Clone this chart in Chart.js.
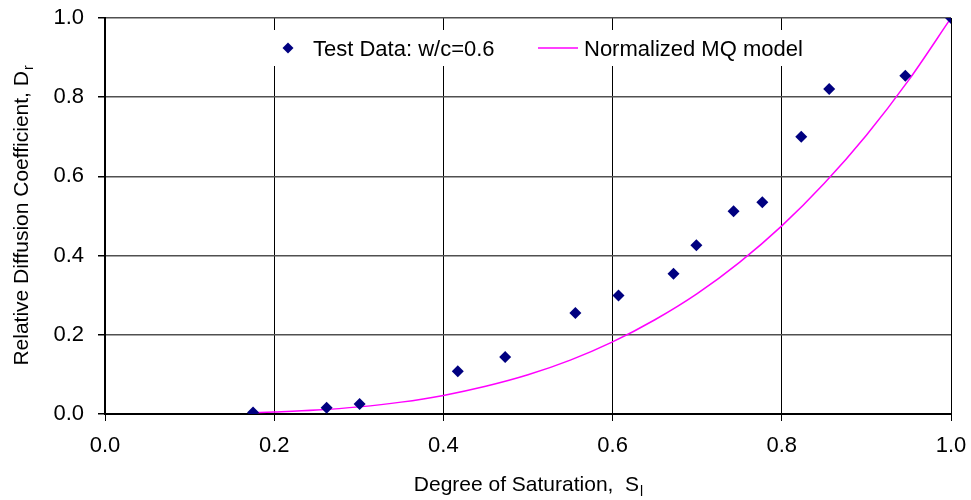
<!DOCTYPE html>
<html>
<head>
<meta charset="utf-8">
<script src="https://cdn.jsdelivr.net/npm/chart.js@4.4.1/dist/chart.umd.min.js"></script>
<style>
html,body{margin:0;padding:0;background:#fff;}
#wrap{width:971px;height:500px;position:relative;}
</style>
</head>
<body>
<div id="wrap"><canvas id="c"></canvas></div>
<script>
// ---- data ----
const testSaturation = [0.175, 0.262, 0.301, 0.417, 0.473, 0.556, 0.607, 0.672, 0.699, 0.743, 0.777, 0.823, 0.856, 0.946, 1.000];
const testDiffusion  = [0.004, 0.016, 0.025, 0.108, 0.144, 0.255, 0.299, 0.354, 0.426, 0.512, 0.535, 0.700, 0.821, 0.854, 1.000];
const modelSaturation = [0.175, 0.20, 0.25, 0.30, 0.35, 0.40, 0.45, 0.50, 0.55, 0.60, 0.65, 0.70, 0.75, 0.80, 0.85, 0.90, 0.95, 1.00];
const modelDiffusion  = [0.003, 0.005, 0.010, 0.018, 0.030, 0.047, 0.070, 0.099, 0.136, 0.182, 0.238, 0.304, 0.383, 0.475, 0.582, 0.704, 0.843, 1.000];
const xTickLabels = ['0.0', '0.2', '0.4', '0.6', '0.8', '1.0'];
const yTickLabels = ['0.0', '0.2', '0.4', '0.6', '0.8', '1.0'];
const seriesLabels = ['Test Data: w/c=0.6', 'Normalized MQ model'];
const xTitle = ['Degree of Saturation,  S', 'l'];
const yTitle = ['Relative Diffusion Coefficient, D', 'r'];

const FONT = "'Liberation Sans', Arial, Helvetica, sans-serif";

const boxLegend = {
  id: 'boxLegend',
  beforeDatasetsDraw(chart) {
    const ctx = chart.ctx, ca = chart.chartArea;
    const ds = chart.data.datasets;
    ctx.save();
    ctx.fillStyle = '#ffffff';
    ctx.fillRect(ca.left + 157, ca.top + 12, 560, 36);
    const cy = ca.top + 30;
    // diamond marker
    const mx = ca.left + 183, r = 5.5;
    ctx.beginPath();
    ctx.moveTo(mx - r, cy); ctx.lineTo(mx, cy - r); ctx.lineTo(mx + r, cy); ctx.lineTo(mx, cy + r);
    ctx.closePath();
    ctx.fillStyle = ds[0].backgroundColor; ctx.fill();
    ctx.font = '22px ' + FONT;
    ctx.fillStyle = '#000';
    ctx.textBaseline = 'alphabetic';
    ctx.fillText(ds[0].label, ca.left + 208, cy + 8);
    // line sample
    ctx.beginPath();
    ctx.moveTo(ca.left + 433, cy); ctx.lineTo(ca.left + 473, cy);
    ctx.strokeStyle = ds[1].borderColor; ctx.lineWidth = 1.5; ctx.stroke();
    ctx.fillText(ds[1].label, ca.left + 479, cy + 8);
    ctx.restore();
  }
};

const axisTitles = {
  id: 'axisTitles',
  afterDraw(chart) {
    const ctx = chart.ctx, ca = chart.chartArea;
    ctx.save();
    ctx.fillStyle = '#000';
    ctx.textBaseline = 'alphabetic';
    // x title
    ctx.font = '21px ' + FONT;
    const w1 = ctx.measureText(xTitle[0]).width;
    ctx.font = '14px ' + FONT;
    const w2 = ctx.measureText(xTitle[1]).width;
    let x0 = (ca.left + ca.right) / 2 - (w1 + w2) / 2;
    ctx.font = '21px ' + FONT;
    ctx.fillText(xTitle[0], x0, 491);
    ctx.font = '14px ' + FONT;
    ctx.fillText(xTitle[1], x0 + w1 + 1, 496);
    // y title
    ctx.translate(28, (ca.top + ca.bottom) / 2);
    ctx.rotate(-Math.PI / 2);
    ctx.font = '21px ' + FONT;
    const v1 = ctx.measureText(yTitle[0]).width;
    ctx.font = '14px ' + FONT;
    const v2 = ctx.measureText(yTitle[1]).width;
    x0 = -(v1 + v2) / 2;
    ctx.font = '21px ' + FONT;
    ctx.fillText(yTitle[0], x0, 0);
    ctx.font = '14px ' + FONT;
    ctx.fillText(yTitle[1], x0 + v1 + 1, 5);
    ctx.restore();
  }
};

function zeroPad(s) { s.paddingTop = 0; s.paddingBottom = 0; s.paddingLeft = 0; s.paddingRight = 0; }

new Chart(document.getElementById('c'), {
  type: 'scatter',
  data: {
    datasets: [
      {
        label: seriesLabels[0],
        data: testSaturation.map((s, i) => ({ x: s, y: testDiffusion[i] })),
        pointStyle: 'rectRot',
        pointRadius: 6,
        pointBorderWidth: 0,
        backgroundColor: '#000080',
        borderColor: '#000080',
        showLine: false
      },
      {
        label: seriesLabels[1],
        data: modelSaturation.map((s, i) => ({ x: s, y: modelDiffusion[i] })),
        showLine: true,
        borderColor: '#ff00ff',
        backgroundColor: '#ff00ff',
        borderWidth: 1.5,
        pointRadius: 0,
        tension: 0.4,
        cubicInterpolationMode: 'monotone'
      }
    ]
  },
  options: {
    responsive: true,
    maintainAspectRatio: false,
    animation: false,
    layout: { padding: { top: 18, right: 20, left: 0, bottom: 0 } },
    plugins: { legend: { display: false }, tooltip: { enabled: false } },
    scales: {
      x: {
        type: 'linear', min: 0, max: 1,
        afterFit: s => { s.height = 86; zeroPad(s); },
        ticks: {
          stepSize: 0.2, padding: 12, color: '#000',
          font: { family: FONT, size: 22 },
          callback: (v, i) => xTickLabels[i]
        },
        grid: { color: '#000', lineWidth: 1, tickLength: 7, tickColor: '#000' },
        border: { color: '#000', width: 2 }
      },
      y: {
        type: 'linear', min: 0, max: 1,
        afterFit: s => { s.width = 105; zeroPad(s); },
        ticks: {
          stepSize: 0.2, padding: 14, color: '#000',
          font: { family: FONT, size: 22 },
          callback: (v, i) => yTickLabels[i]
        },
        grid: { color: '#505050', lineWidth: 1.5, tickLength: 7, tickColor: '#000' },
        border: { color: '#000', width: 2 }
      }
    }
  },
  plugins: [boxLegend, axisTitles]
});
</script>
</body>
</html>
